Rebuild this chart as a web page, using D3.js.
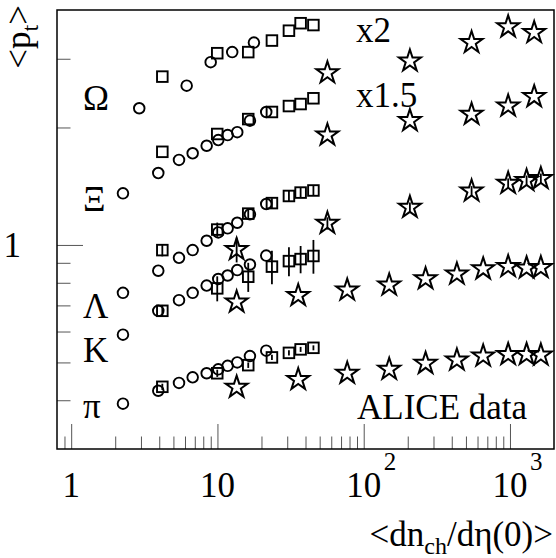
<!DOCTYPE html>
<html>
<head>
<meta charset="utf-8">
<script src="https://cdn.jsdelivr.net/npm/d3@7"></script>
<style>
body{margin:0;background:#fff;}
svg{display:block;}
</style>
</head>
<body>
<script>
// <dN/deta> of the multiplicity classes
var ppMult = [2.26, 3.94, 5.46, 6.77, 8.44, 10.13, 11.74, 13.66, 16.68, 21.56];
var ppMultOmega = [2.92, 6.16, 8.99, 12.62, 17.76];
var pPbMult = [4.20, 9.97, 16.24, 23.58, 30.82, 37.04, 45.31];
var PbPbMult10 = [13.53, 35.67, 77.15, 149.4, 264.9, 433.6, 655.9, 971.9, 1299, 1626];
var PbPbMult7 = [13.53, 56.47, 206.9, 546.5, 971.9, 1299, 1626];
var PbPbMult5 = [56.47, 206.9, 546.5, 971.9, 1464];

// <pt> values (GeV/c), unscaled
var piPP = [0.392, 0.423, 0.443, 0.458, 0.469, 0.480, 0.490, 0.500, 0.519, 0.536];
var piPPb = [0.433, 0.469, 0.492, 0.515, 0.529, 0.540, 0.545];
var piPPbErr = [0.008, 0.010, 0.008, 0.008, 0.008, 0.008, 0.008];
var piPbPb = [0.432, 0.452, 0.469, 0.480, 0.497, 0.507, 0.519, 0.524, 0.524, 0.522];

var kPP = [0.589, 0.678, 0.722, 0.754, 0.787, 0.818, 0.835, 0.862, 0.891, 0.939];
var kPPb = [0.678, 0.774, 0.829, 0.880, 0.909, 0.920, 0.937];
var kPPbErr = [0.024, 0.057, 0.071, 0.087, 0.078, 0.074, 0.093];
var kPbPb = [0.714, 0.742, 0.766, 0.789, 0.819, 0.842, 0.868, 0.880, 0.873, 0.875];

var lamPP = [0.754, 0.859, 0.927, 0.970, 1.025, 1.077, 1.103, 1.140, 1.198, 1.273];
var lamPPb = [0.970, 1.095, 1.203, 1.280, 1.335, 1.362, 1.379];
var lamPPbErr = [0.035, 0.046, 0.036, 0.038, 0.040, 0.041, 0.041];
var lamPbPb = [0.973, 1.136, 1.248, 1.374, 1.438, 1.462, 1.480];
var lamPbPbErr = [0.071, 0.041, 0.037, 0.041, 0.043, 0.044, 0.044];

var xiPP = [0.904, 1.019, 1.101, 1.145, 1.197, 1.238, 1.275, 1.297, 1.388, 1.461];
var xiPPb = [1.155, 1.283, 1.401, 1.461, 1.513, 1.531, 1.584];
var xiPbPb = [1.275, 1.388, 1.441, 1.513, 1.599];

var omPP = [1.12, 1.28, 1.47, 1.56, 1.65];
var omPPb = [1.35, 1.55, 1.56, 1.67, 1.77, 1.85, 1.83];
var omPbPb = [1.38, 1.48, 1.65, 1.81, 1.75];

var xiScale = 1.5, omScale = 2;

var xTickValues = [1, 10, 100, 1000];
var xTickBase = ['1', '10', '10', '10'];
var xTickExp = ['', '', '2', '3'];
var yTickValues = [1];
var yTickLabels = ['1'];

var W = 556, H = 558;
var margin = {left:57, top:10, right:2, bottom:109};
var width = W - margin.left - margin.right;
var height = H - margin.top - margin.bottom;
var serif = '"Liberation Serif", "DejaVu Serif", "Times New Roman", Times, serif';

var x = d3.scaleLog().domain([0.8, 2000]).range([0, width]);
var y = d3.scaleLog().domain([0.3, 4]).range([height, 0]);

var series = [
	{x:ppMult, y:piPP, k:1, m:'circle'},
	{x:pPbMult, y:piPPb, e:piPPbErr, k:1, m:'square'},
	{x:PbPbMult10, y:piPbPb, k:1, m:'star'},
	{x:ppMult, y:kPP, k:1, m:'circle'},
	{x:pPbMult, y:kPPb, e:kPPbErr, k:1, m:'square'},
	{x:PbPbMult10, y:kPbPb, k:1, m:'star'},
	{x:ppMult, y:lamPP, k:1, m:'circle'},
	{x:pPbMult, y:lamPPb, e:lamPPbErr, k:1, m:'square'},
	{x:PbPbMult7, y:lamPbPb, e:lamPbPbErr, k:1, m:'star'},
	{x:ppMult, y:xiPP, k:xiScale, m:'circle'},
	{x:pPbMult, y:xiPPb, k:xiScale, m:'square'},
	{x:PbPbMult5, y:xiPbPb, k:xiScale, m:'star'},
	{x:ppMultOmega, y:omPP, k:omScale, m:'circle'},
	{x:pPbMult, y:omPPb, k:omScale, m:'square'},
	{x:PbPbMult5, y:omPbPb, k:omScale, m:'star'}
];

var svg = d3.select('body').append('svg').attr('width', W).attr('height', H)
	.attr('font-family', serif);
var g = svg.append('g').attr('transform', `translate(${margin.left},${margin.top})`);

// ticks (minor from the log scale, major on decades)
var xMinor = x.ticks().filter(d=>xTickValues.indexOf(d) < 0 && d > 0.8 && d < 2000);
var yMinor = y.ticks().filter(d=>yTickValues.indexOf(d) < 0 && d > 0.3 && d < 4);

function styleAxis(sel){
	sel.select('.domain').remove();
	sel.selectAll('line').attr('stroke', '#555').attr('stroke-width', 1);
	sel.selectAll('text').remove();
}
g.append('g').attr('transform', `translate(0,${height})`)
	.call(d3.axisBottom(x).tickValues(xMinor).tickSize(-12.5)).call(styleAxis);
g.append('g').attr('transform', `translate(0,${height})`)
	.call(d3.axisBottom(x).tickValues(xTickValues).tickSize(-25)).call(styleAxis);
g.append('g')
	.call(d3.axisLeft(y).tickValues(yMinor).tickSize(-13.5)).call(styleAxis);
g.append('g')
	.call(d3.axisLeft(y).tickValues(yTickValues).tickSize(-26)).call(styleAxis);

// frame
g.append('rect').attr('width', width).attr('height', height)
	.attr('fill', 'none').attr('stroke', '#000').attr('stroke-width', 1.5);

// tick labels
xTickValues.forEach((v,i)=>{
	g.append('text').attr('x', x(v)).attr('y', height + 48)
		.attr('font-family', serif)
		.attr('text-anchor', 'middle').attr('font-size', 35).text(xTickBase[i]);
	if (xTickExp[i]) {
		g.append('text').attr('x', x(v) + 20).attr('y', height + 21)
			.attr('font-family', serif)
			.attr('font-size', 25).text(xTickExp[i]);
	}
});
yTickValues.forEach((v,i)=>{
	g.append('text').attr('x', -36).attr('y', y(v) + 12)
		.attr('font-family', serif)
		.attr('text-anchor', 'end').attr('font-size', 35).text(yTickLabels[i]);
});

// axis titles
var xt = svg.append('text').attr('x', 553).attr('y', 546)
	.attr('font-family', serif)
	.attr('text-anchor', 'end').attr('font-size', 35);
xt.append('tspan').text('<dn');
xt.append('tspan').attr('font-size', 24).attr('dy', 8).text('ch');
xt.append('tspan').attr('dy', -8).text('/d\u03b7(0)>');

var yt = svg.append('text').attr('transform', 'translate(30,5) rotate(-90)')
	.attr('font-family', serif)
	.attr('text-anchor', 'end').attr('font-size', 35);
yt.append('tspan').text('<p');
yt.append('tspan').attr('font-size', 24).attr('dy', 8).text('t');
yt.append('tspan').attr('dy', -8).text('>');

// data
var star = d3.symbol().type(d3.symbolStar).size(150);
series.forEach(s=>{
	var pts = s.x.map((xv,i)=>({x:xv, y:s.y[i]*s.k, e:s.e ? s.e[i]*s.k : 0}));
	var sg = g.append('g').attr('fill', 'none').attr('stroke', '#000');
	sg.selectAll('line.err').data(pts.filter(d=>d.e > 0)).enter().append('line')
		.attr('class', 'err')
		.attr('x1', d=>x(d.x)).attr('x2', d=>x(d.x))
		.attr('y1', d=>y(d.y - d.e)).attr('y2', d=>y(d.y + d.e))
		.attr('stroke-width', 1.8);
	if (s.m == 'circle') {
		sg.selectAll('circle').data(pts).enter().append('circle')
			.attr('cx', d=>x(d.x)).attr('cy', d=>y(d.y)).attr('r', 5.3)
			.attr('stroke-width', 1.9);
	} else if (s.m == 'square') {
		sg.selectAll('rect').data(pts).enter().append('rect')
			.attr('x', d=>x(d.x) - 5.3).attr('y', d=>y(d.y) - 5.3)
			.attr('width', 10.6).attr('height', 10.6)
			.attr('stroke-width', 1.9);
	} else {
		sg.selectAll('path').data(pts).enter().append('path')
			.attr('transform', d=>`translate(${x(d.x)},${y(d.y)})`)
			.attr('d', star)
			.attr('stroke-width', 2).attr('stroke-linejoin', 'miter');
	}
});

// labels
var labels = [
	{t:'\u03a9', x:83, y:110},
	{t:'\u039e', x:83, y:211},
	{t:'\u039b', x:83, y:318},
	{t:'K', x:83, y:362},
	{t:'\u03c0', x:83, y:418},
	{t:'x2', x:356, y:42},
	{t:'x1.5', x:356, y:107},
	{t:'ALICE data', x:357, y:419}
];
svg.selectAll('text.lbl').data(labels).enter().append('text')
	.attr('class', 'lbl')
	.attr('font-family', serif)
	.attr('x', d=>d.x).attr('y', d=>d.y)
	.attr('font-size', 35).text(d=>d.t);
</script>
</body>
</html>
